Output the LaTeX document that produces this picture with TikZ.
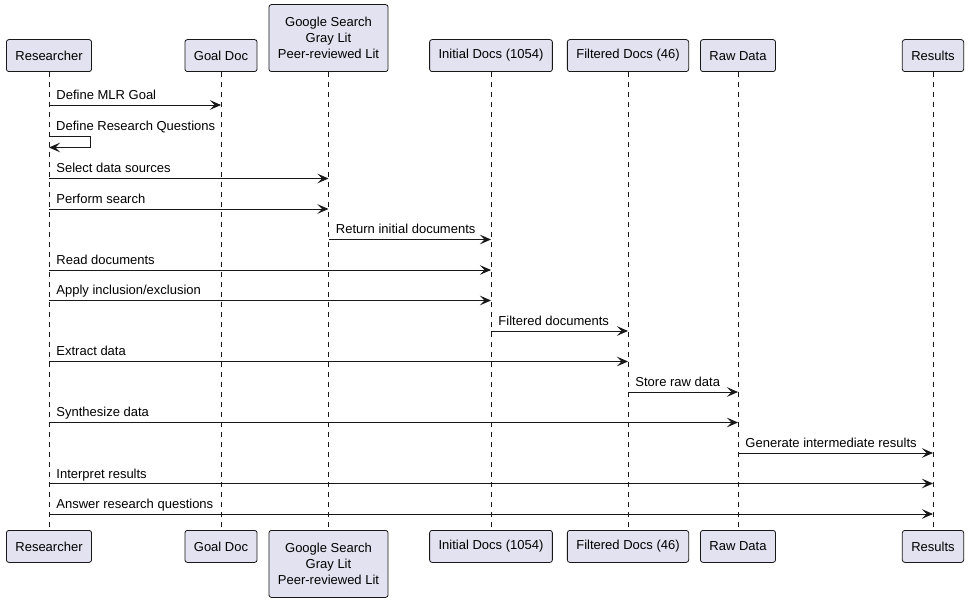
\documentclass[tikz,border=0pt]{standalone}
\usepackage{fontspec}
\setmainfont{Liberation Sans}
\usetikzlibrary{arrows.meta}
\definecolor{partfill}{HTML}{E2E2F0}
\definecolor{umlline}{HTML}{181818}
\newcommand{\umlfont}{\fontsize{13}{16}\selectfont}
\begin{document}
\begin{tikzpicture}[x=1pt,y=-1pt,
	part/.style={draw=umlline,fill=partfill,line width=0.8pt,rounded corners=2.5pt,inner xsep=9pt,minimum height=32pt,align=center,font=\umlfont},
	life/.style={draw=umlline,line width=0.5pt,dash pattern=on 5pt off 5pt},
	msg/.style={draw=umlline,line width=0.9pt,-{Stealth[length=11pt,width=9.5pt,inset=4.5pt]}},
	lbl/.style={anchor=base west,xshift=7pt,yshift=5.5pt,inner sep=0pt,font=\umlfont}]
	\useasboundingbox (0,0) rectangle (969,601);
	% participants (top)
	\node[part,anchor=south] (res) at (49,72) {Researcher};
	\node[part,anchor=south] (goal) at (221,72) {Goal Doc};
	\node[part,anchor=south,minimum height=67pt] (src) at (328.5,72) {Google Search\\Gray Lit\\Peer-reviewed Lit};
	\node[part,anchor=south] (init) at (491,72) {Initial Docs (1054)};
	\node[part,anchor=south] (filt) at (628,72) {Filtered Docs (46)};
	\node[part,anchor=south] (raw) at (738,72) {Raw Data};
	\node[part,anchor=south] (resu) at (933,72) {Results};
	% participants (bottom)
	\node[part,anchor=north] (resB) at (49,530) {Researcher};
	\node[part,anchor=north] (goalB) at (221,530) {Goal Doc};
	\node[part,anchor=north,minimum height=67pt] (srcB) at (328.5,530) {Google Search\\Gray Lit\\Peer-reviewed Lit};
	\node[part,anchor=north] (initB) at (491,530) {Initial Docs (1054)};
	\node[part,anchor=north] (filtB) at (628,530) {Filtered Docs (46)};
	\node[part,anchor=north] (rawB) at (738,530) {Raw Data};
	\node[part,anchor=north] (resuB) at (933,530) {Results};
	% lifelines
	\draw[life] (res.south) -- (resB.north);
	\draw[life] (goal.south) -- (goalB.north);
	\draw[life] (src.south) -- (srcB.north);
	\draw[life] (init.south) -- (initB.north);
	\draw[life] (filt.south) -- (filtB.north);
	\draw[life] (raw.south) -- (rawB.north);
	\draw[life] (resu.south) -- (resuB.north);
	% message rows
	\coordinate (m1) at (0,105);
	\coordinate (m2) at (0,136);
	\coordinate (m2b) at (0,147.5);
	\coordinate (m3) at (0,178.5);
	\coordinate (m4) at (0,209);
	\coordinate (m5) at (0,239.5);
	\coordinate (m6) at (0,270);
	\coordinate (m7) at (0,300.5);
	\coordinate (m8) at (0,331);
	\coordinate (m9) at (0,361.5);
	\coordinate (m10) at (0,392);
	\coordinate (m11) at (0,422.5);
	\coordinate (m12) at (0,453);
	\coordinate (m13) at (0,483.5);
	\coordinate (m14) at (0,514);
	% messages
	\draw[msg] (res |- m1) -- (goal |- m1) node[lbl,pos=0] (t1) {Define MLR Goal};
	\draw[msg] (res |- m2) -- ++(41.5,0) -- ++(0,11.5) -- (res |- m2b);
	\node[lbl] (t2) at (res |- m2) {Define Research Questions};
	\draw[msg] (res |- m3) -- (src |- m3) node[lbl,pos=0] (t3) {Select data sources};
	\draw[msg] (res |- m4) -- (src |- m4) node[lbl,pos=0] (t4) {Perform search};
	\draw[msg] (src |- m5) -- (init |- m5) node[lbl,pos=0] (t5) {Return initial documents};
	\draw[msg] (res |- m6) -- (init |- m6) node[lbl,pos=0] (t6) {Read documents};
	\draw[msg] (res |- m7) -- (init |- m7) node[lbl,pos=0] (t7) {Apply inclusion/exclusion};
	\draw[msg] (init |- m8) -- (filt |- m8) node[lbl,pos=0] (t8) {Filtered documents};
	\draw[msg] (res |- m9) -- (filt |- m9) node[lbl,pos=0] (t9) {Extract data};
	\draw[msg] (filt |- m10) -- (raw |- m10) node[lbl,pos=0] (t10) {Store raw data};
	\draw[msg] (res |- m11) -- (raw |- m11) node[lbl,pos=0] (t11) {Synthesize data};
	\draw[msg] (raw |- m12) -- (resu |- m12) node[lbl,pos=0] (t12) {Generate intermediate results};
	\draw[msg] (res |- m13) -- (resu |- m13) node[lbl,pos=0] (t13) {Interpret results};
	\draw[msg] (res |- m14) -- (resu |- m14) node[lbl,pos=0] (t14) {Answer research questions};
\end{tikzpicture}
\end{document}
